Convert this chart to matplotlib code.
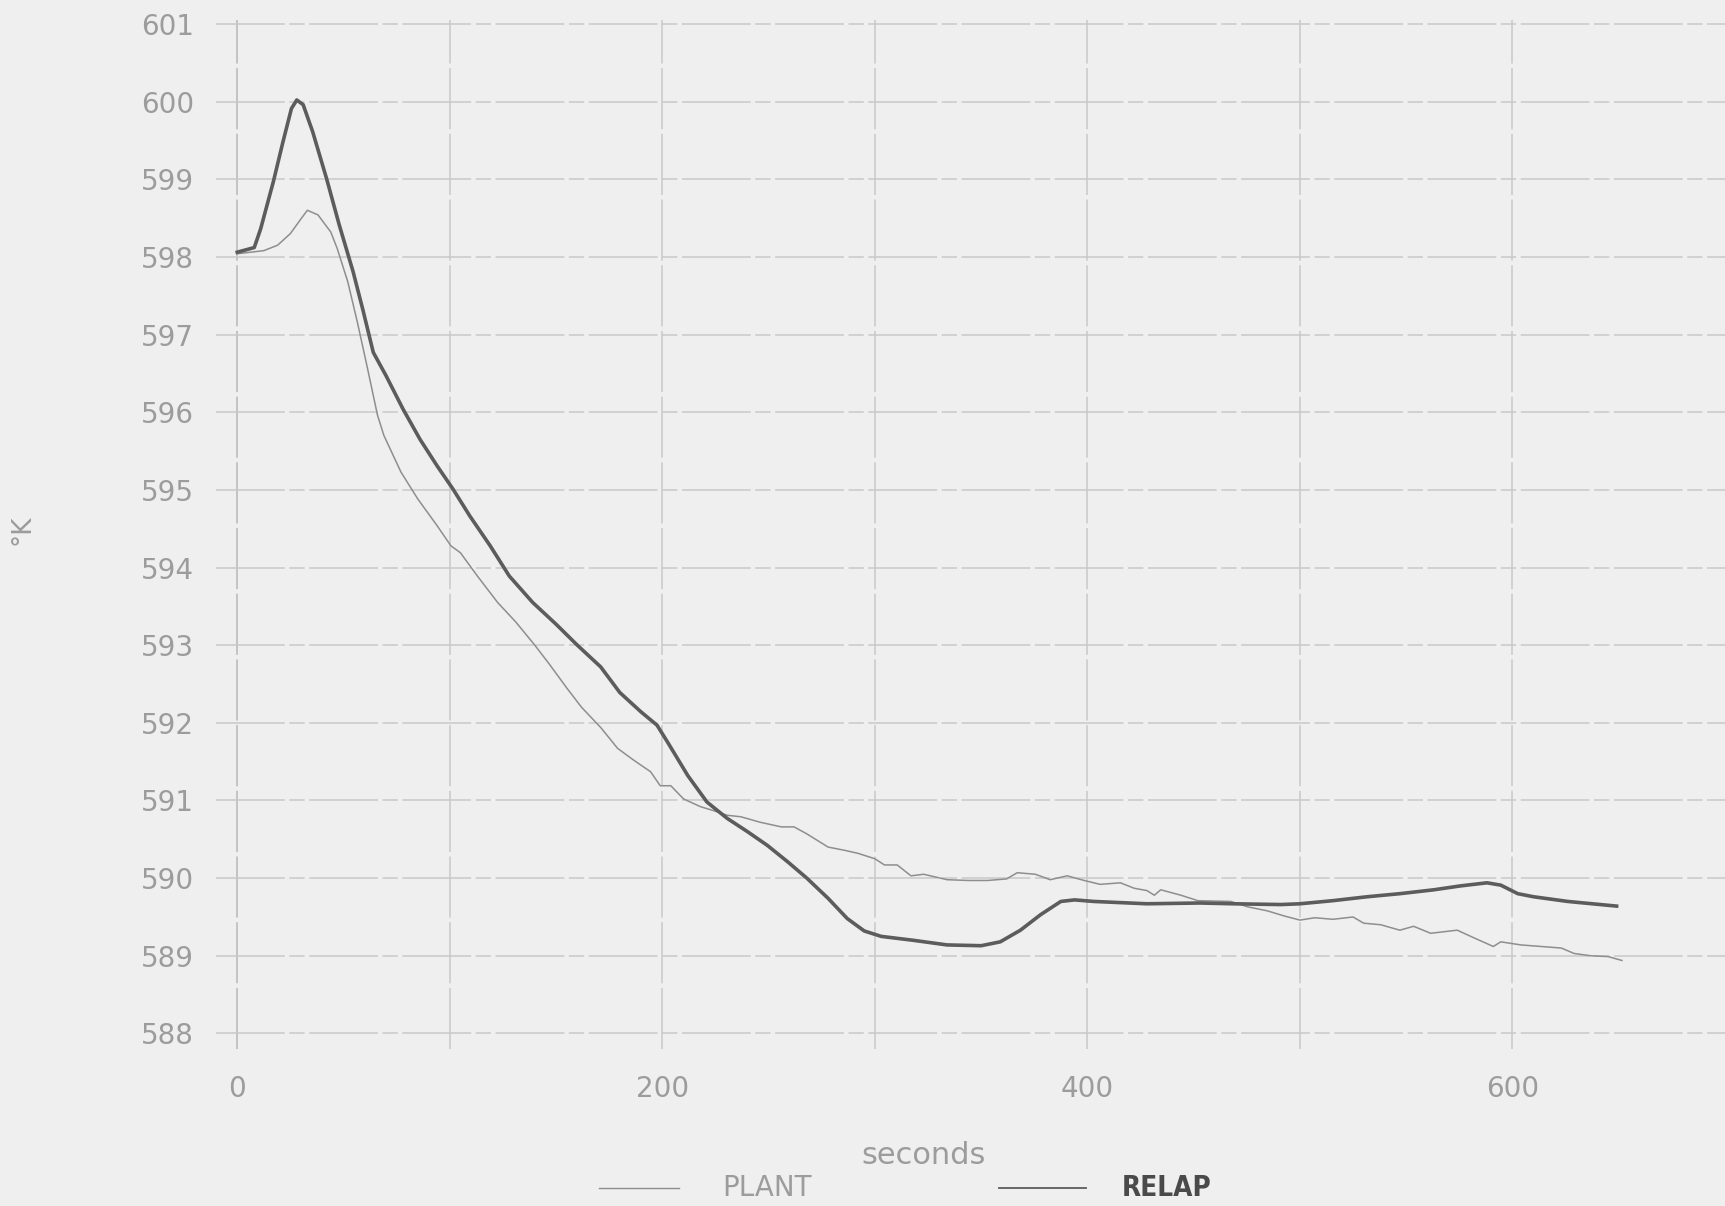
import matplotlib
matplotlib.use("Agg")
import matplotlib.pyplot as plt
from matplotlib.lines import Line2D

# ---------------- data ----------------
plant_t = [0, 12.5, 19, 25, 30, 33, 38, 44, 47, 52, 56.5, 61, 66, 69, 77, 85, 94, 100.5, 105, 113,
           122.5, 131, 140, 147, 155, 162, 171, 179, 186.5, 194.5, 199, 204, 210, 218, 224, 230.5,
           237, 246, 256, 262, 268, 278, 285.5, 292, 300, 304.5, 310.5, 317, 323, 334, 344, 353,
           362, 367, 375.5, 382.5, 390.5, 398.5, 406, 415.5, 422, 428, 431.5, 434.5, 444, 452,
           467.5, 475.5, 484.5, 493, 500, 507, 515.5, 525, 530, 538, 547, 553.5, 561.5, 574, 582,
           591, 594.5, 604, 613.5, 623, 629, 637, 645, 651.5]
plant_v = [598.04, 598.08, 598.15, 598.30, 598.49, 598.60, 598.54, 598.32, 598.11, 597.68, 597.16,
           596.60, 595.96, 595.70, 595.23, 594.88, 594.54, 594.28, 594.19, 593.89, 593.55, 593.3,
           593.0, 592.75, 592.45, 592.2, 591.94, 591.67, 591.52, 591.37, 591.19, 591.19, 591.02,
           590.92, 590.87, 590.81, 590.79, 590.72, 590.66, 590.66, 590.57, 590.40, 590.36, 590.32,
           590.25, 590.17, 590.17, 590.03, 590.05, 589.98, 589.97, 589.97, 589.99, 590.07, 590.05,
           589.98, 590.03, 589.97, 589.92, 589.94, 589.87, 589.84, 589.78, 589.85, 589.78, 589.71,
           589.70, 589.63, 589.58, 589.51, 589.46, 589.49, 589.47, 589.50, 589.42, 589.40, 589.33,
           589.38, 589.29, 589.33, 589.23, 589.12, 589.18, 589.14, 589.12, 589.10, 589.03, 589.00,
           588.99, 588.94]

relap_t = [0, 8, 11, 17, 21.5, 25.5, 28, 31, 35.5, 42, 48, 54.5, 59, 64, 70, 78, 86, 94, 101.5,
           109.5, 119, 128, 139, 150, 160, 171, 180, 190, 197.5, 202.5, 212, 221, 230.5, 240,
           249.5, 259, 268, 278, 287, 295, 303, 318, 334, 350, 359, 368.5, 378, 387.5, 394, 403,
           428, 453, 468.5, 491, 500, 515.5, 531.5, 547, 563, 575.5, 588, 594.5, 602.5, 610, 626, 649]
relap_v = [598.06, 598.12, 598.36, 598.97, 599.48, 599.91, 600.02, 599.96, 599.61, 599.01,
           598.41, 597.81, 597.33, 596.77, 596.47, 596.04, 595.65, 595.31, 595.01, 594.66,
           594.28, 593.89, 593.55, 593.27, 593.0, 592.72, 592.39, 592.14, 591.97, 591.75,
           591.32, 590.98, 590.77, 590.60, 590.42, 590.21, 590.0, 589.74, 589.48, 589.32,
           589.25, 589.20, 589.14, 589.13, 589.18, 589.33, 589.53, 589.70, 589.72, 589.70,
           589.67, 589.68, 589.67, 589.66, 589.67, 589.71, 589.76, 589.80, 589.85, 589.90,
           589.94, 589.91, 589.80, 589.76, 589.70, 589.64]

x_grid = [0, 100, 200, 300, 400, 500, 600]
x_ticks = [0, 200, 400, 600]
y_ticks = list(range(588, 602))
series_names = ["PLANT", "RELAP"]

# ---------------- figure ----------------
W, H = 1725, 1206
BG = "#efefef"
TXT = "#9c9c9c"
GRID = "#c8c8c8"
C_PLANT = "#8e8e8e"
C_RELAP = "#5c5c5c"

fig = plt.figure(figsize=(W / 100, H / 100), dpi=100, facecolor=BG)
ax = fig.add_axes([216 / W, 1 - 1049 / H, 1 - 216 / W, (1049 - 20) / H])
ax.set_facecolor(BG)

ax.set_xlim(-10, 700)
ax.set_ylim(587.8, 601.05)

for s in ax.spines.values():
    s.set_visible(False)

# grid
for xv in x_grid:
    ax.axvline(xv, color=GRID if xv else "#b8b8b8", lw=1.1, ls=(0, (40, 3)), zorder=1)
for yv in y_ticks:
    ax.axhline(yv, color=GRID, lw=1.1, ls=(0, (45, 3, 10, 3)), zorder=1)

ax.set_xticks(x_ticks)
ax.set_xticklabels([str(v) for v in x_ticks])
ax.set_yticks(y_ticks)
ax.set_yticklabels([str(v) for v in y_ticks])
ax.tick_params(axis="both", length=0, labelsize=20, labelcolor=TXT)
ax.tick_params(axis="y", pad=16)
ax.tick_params(axis="x", pad=19)

# series
ax.plot(plant_t, plant_v, color=C_PLANT, lw=1.1, zorder=3)
ax.plot(relap_t, relap_v, color=C_RELAP, lw=2.6, zorder=4, solid_joinstyle="round")

# labels
fig.text(924 / W, 1 - 1155 / H, "seconds", ha="center", va="center",
         fontsize=22, color=TXT)
fig.text(23 / W, 1 - 530 / H, "°K", ha="center", va="center", rotation=90,
         fontsize=19, color=TXT)

# legend (manual placement)
ly = 1 - 1188 / H
fig.add_artist(Line2D([599 / W, 679 / W], [ly, ly], transform=fig.transFigure,
                      color=C_PLANT, lw=1.0))
fig.text(722 / W, ly, series_names[0], ha="left", va="center", fontsize=20, color=TXT)
fig.add_artist(Line2D([999 / W, 1086 / W], [ly, ly], transform=fig.transFigure,
                      color=C_RELAP, lw=1.3))
fig.text(1122 / W, ly, series_names[1], ha="left", va="center", fontsize=20,
         color="#4a4a4a", fontweight="bold", fontstretch="condensed")

fig.savefig("out.png", dpi=100, facecolor=BG)
